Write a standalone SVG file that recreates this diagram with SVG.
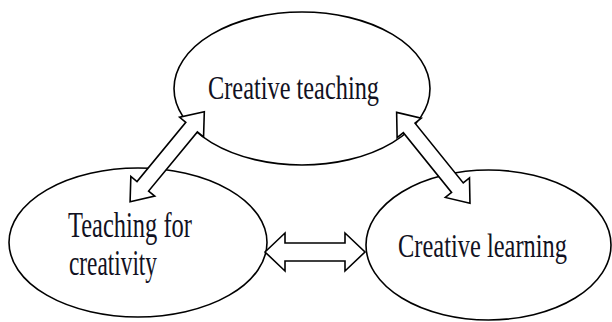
<svg xmlns="http://www.w3.org/2000/svg" width="612" height="322" viewBox="0 0 612 322">
  <style>
    .node { fill: #ffffff; stroke: #000000; stroke-width: 1.6; }
    .arrow { fill: #ffffff; stroke: #000000; stroke-width: 1.6; stroke-linejoin: miter; }
    .label { font-family: "Liberation Serif", "Times New Roman", serif; fill: #111122; }
  </style>
  <rect width="612" height="322" fill="#ffffff"/>
  <g id="node-creative-teaching">
    <ellipse class="node" cx="302" cy="88.5" rx="128" ry="76.5"/>
    <text class="label" x="208" y="99" font-size="33" textLength="171" lengthAdjust="spacingAndGlyphs">Creative teaching</text>
  </g>
  <g id="node-teaching-for-creativity">
    <ellipse class="node" cx="138" cy="242.5" rx="129" ry="74.5"/>
    <text class="label" x="68" y="237" font-size="35" textLength="124" lengthAdjust="spacingAndGlyphs">Teaching for</text>
    <text class="label" x="69" y="275" font-size="35" textLength="88" lengthAdjust="spacingAndGlyphs">creativity</text>
  </g>
  <g id="node-creative-learning">
    <ellipse class="node" cx="488.5" cy="245" rx="122.5" ry="75"/>
    <text class="label" x="398" y="257" font-size="33" textLength="169" lengthAdjust="spacingAndGlyphs">Creative learning</text>
  </g>
  <g id="connectors">
    <path class="arrow" transform="translate(167.2,156.7) rotate(-50.5)" d="M -58.35,0 L -38.35,-15.5 L -38.35,-7.5 L 38.35,-7.5 L 38.35,-15.5 L 58.35,0 L 38.35,15.5 L 38.35,7.5 L -38.35,7.5 L -38.35,15.5 Z"/>
    <path class="arrow" transform="translate(433.3,157.8) rotate(51.1)" d="M -58.4,0 L -38.4,-15.5 L -38.4,-7.5 L 38.4,-7.5 L 38.4,-15.5 L 58.4,0 L 38.4,15.5 L 38.4,7.5 L -38.4,7.5 L -38.4,15.5 Z"/>
    <path class="arrow" transform="translate(315,252)" d="M -50,0 L -30,-19 L -30,-9 L 30,-9 L 30,-19 L 50,0 L 30,19 L 30,9 L -30,9 L -30,19 Z"/>
  </g>
</svg>
